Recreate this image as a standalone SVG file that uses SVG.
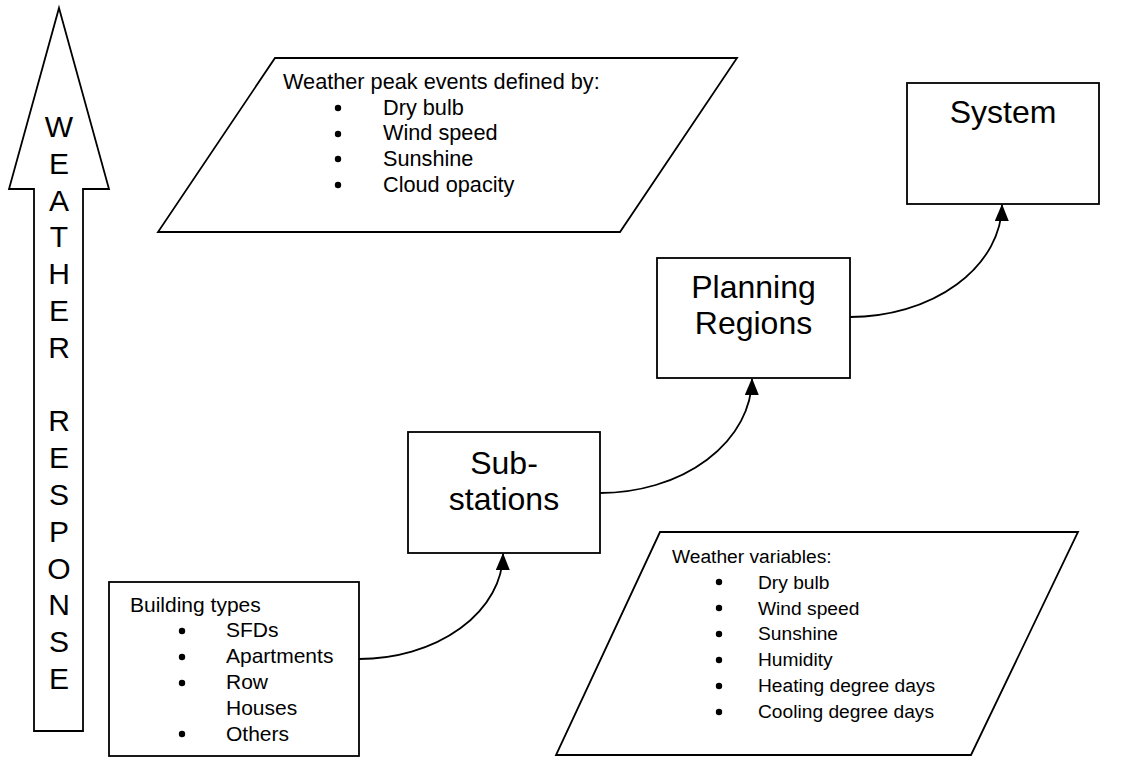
<svg xmlns="http://www.w3.org/2000/svg" width="1126" height="757" viewBox="0 0 1126 757">
<style>
.shape{fill:#fff;stroke:#000;stroke-width:1.8}
.big{font-family:"Liberation Sans",Arial,sans-serif;font-size:32px;fill:#000;text-anchor:middle}
.small{font-family:"Liberation Sans",Arial,sans-serif;font-size:21px;fill:#000}
.conn{fill:none;stroke:#000;stroke-width:1.8}
</style>
<defs>
<marker id="ah" viewBox="0 0 17 14" refX="16" refY="7" markerWidth="17" markerHeight="14" markerUnits="userSpaceOnUse" orient="auto">
<path d="M0,0 L17,7 L0,14 Z" fill="#000"/>
</marker>
</defs>
<rect width="1126" height="757" fill="#fff"/>
<g id="weather-response">
<polygon class="shape" points="59,8 109,189 83,189 83,731 34,731 34,189 9,189"/>
<g class="big" style="font-size:30px">
<text x="59" y="137">W</text>
<text x="59" y="174">E</text>
<text x="59" y="211">A</text>
<text x="59" y="247">T</text>
<text x="59" y="284">H</text>
<text x="59" y="321">E</text>
<text x="59" y="358">R</text>
<text x="59" y="431">R</text>
<text x="59" y="468">E</text>
<text x="59" y="505">S</text>
<text x="59" y="542">P</text>
<text x="59" y="579">O</text>
<text x="59" y="615">N</text>
<text x="59" y="652">S</text>
<text x="59" y="689">E</text>
</g>
</g>
<g id="weather-peak">
<polygon class="shape" points="275,58 737,58 620,232 158,232"/>
<g class="small" style="font-size:21.7px">
<text x="283" y="89">Weather peak events defined by:</text>
<text x="383" y="115">Dry bulb</text>
<text x="383" y="140">Wind speed</text>
<text x="383" y="166">Sunshine</text>
<text x="383" y="192">Cloud opacity</text>
</g>
<circle cx="338" cy="108" r="3.2"/>
<circle cx="338" cy="134" r="3.2"/>
<circle cx="338" cy="159" r="3.2"/>
<circle cx="338" cy="185" r="3.2"/>
</g>
<g id="system">
<rect class="shape" x="907" y="83" width="192" height="121"/>
<text class="big" x="1003" y="123">System</text>
</g>
<g id="planning-regions">
<rect class="shape" x="657" y="258" width="193" height="120"/>
<text class="big" x="753.5" y="298">Planning</text>
<text class="big" x="753.5" y="334">Regions</text>
</g>
<g id="substations">
<rect class="shape" x="408" y="432" width="192" height="121"/>
<text class="big" x="504" y="474">Sub-</text>
<text class="big" x="504" y="510">stations</text>
</g>
<g id="building-types">
<rect class="shape" x="109" y="582" width="250" height="174"/>
<text class="small" x="130" y="612">Building types</text>
<circle cx="182" cy="631" r="3.2"/>
<circle cx="182" cy="657" r="3.2"/>
<circle cx="182" cy="683" r="3.2"/>
<circle cx="182" cy="734" r="3.2"/>
<text class="small" x="226" y="637">SFDs</text>
<text class="small" x="226" y="663">Apartments</text>
<text class="small" x="226" y="689">Row</text>
<text class="small" x="226" y="715">Houses</text>
<text class="small" x="226" y="741">Others</text>
</g>
<g id="weather-variables">
<polygon class="shape" points="660,532 1078,532 971,755 556,755"/>
<g class="small" style="font-size:19.2px">
<text x="672" y="563">Weather variables:</text>
<text x="758" y="589">Dry bulb</text>
<text x="758" y="615">Wind speed</text>
<text x="758" y="640">Sunshine</text>
<text x="758" y="666">Humidity</text>
<text x="758" y="692">Heating degree days</text>
<text x="758" y="718">Cooling degree days</text>
</g>
<circle cx="719" cy="582" r="3.2"/>
<circle cx="719" cy="608" r="3.2"/>
<circle cx="719" cy="634" r="3.2"/>
<circle cx="719" cy="660" r="3.2"/>
<circle cx="719" cy="686" r="3.2"/>
<circle cx="719" cy="712" r="3.2"/>
</g>
<g id="connectors">
<path class="conn" d="M359,659 A144,106 0 0 0 503,554" marker-end="url(#ah)"/>
<path class="conn" d="M600,493 A152,115 0 0 0 752,379" marker-end="url(#ah)"/>
<path class="conn" d="M850,317 A152,113 0 0 0 1002,205" marker-end="url(#ah)"/>
</g>
</svg>
